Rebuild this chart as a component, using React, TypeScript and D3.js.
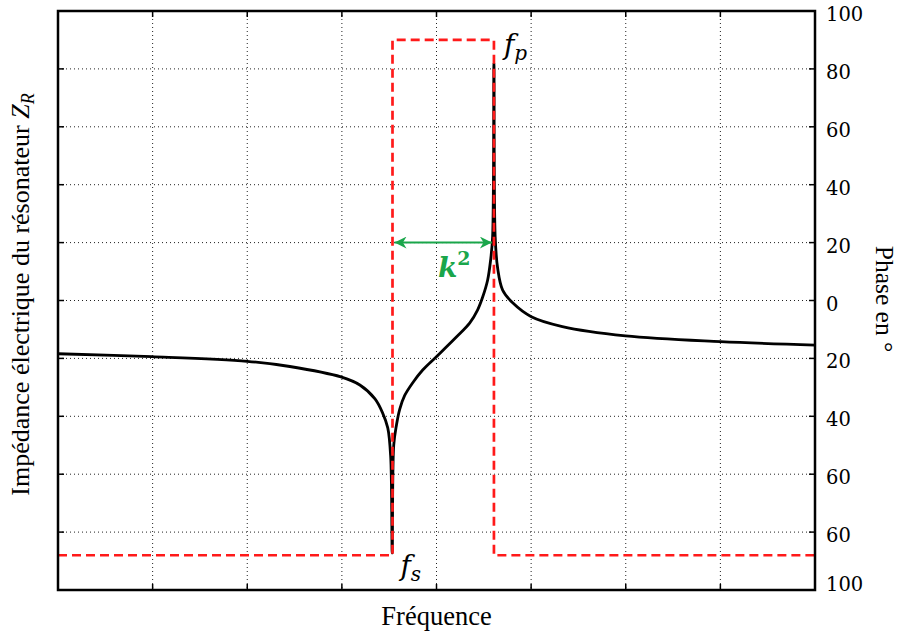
import * as d3 from "d3";
import { useEffect, useRef } from "react";

const WIDTH = 898;
const HEIGHT = 634;
const margin = { top: 11, bottom: 44, left: 58, right: 83 };

// frequency axis in grid units (8 divisions, no labels)
const freqTicks = [0, 1, 2, 3, 4, 5, 6, 7, 8];
// phase axis, labels as printed on the original
const phaseTicks = [100, 80, 60, 40, 20, 0, -20, -40, -60, -80, -100];
const phaseLabels = ["100", "80", "60", "40", "20", "0", "20", "40", "60", "60", "100"];

// series and parallel resonance positions
const fs = 3.535;
const fp = 4.607;

// impedance curve (arbitrary units, 0..10)
const freq = [
  0, 0.99, 2.0, 2.45, 2.99, 3.19, 3.35, 3.43, 3.485, 3.516, 3.532,
  3.548, 3.577, 3.611, 3.664, 3.749, 3.854, 3.999, 4.21, 4.35, 4.435,
  4.488, 4.54, 4.572, 4.593, 4.607, 4.62, 4.646, 4.699, 4.805, 5.002,
  5.33, 5.998, 7.0, 8.0,
];
const impedance = [
  4.08, 4.03, 3.95, 3.86, 3.68, 3.54, 3.3, 3.06, 2.8, 2.3, 0.64,
  2.5, 2.85, 3.12, 3.36, 3.58, 3.8, 4.03, 4.37, 4.61, 4.84,
  5.06, 5.35, 5.7, 6.1, 9.1, 6.1, 5.56, 5.18, 4.96, 4.72,
  4.55, 4.39, 4.29, 4.23,
];

// phase step (degrees)
const phaseFreq = [0, fs, fp, 8];
const phaseValue = [-88, 90, -88, -88];

const k2Level = 20;

const App = () => {
  const svgRef = useRef(null);

  useEffect(() => {
    const svg = d3.select(svgRef.current);
    svg.selectAll("*").remove();

    const x = d3.scaleLinear().domain([0, 8]).range([margin.left, WIDTH - margin.right]);
    const yPhase = d3.scaleLinear().domain([-100, 100]).range([HEIGHT - margin.bottom, margin.top]);
    const yImp = d3.scaleLinear().domain([0, 10]).range([HEIGHT - margin.bottom, margin.top]);
    const x0 = margin.left;
    const x1 = WIDTH - margin.right;
    const y0 = margin.top;
    const y1 = HEIGHT - margin.bottom;

    const defs = svg.append("defs");
    defs
      .append("marker")
      .attr("id", "arrow")
      .attr("viewBox", "0 0 10 10")
      .attr("refX", 10)
      .attr("refY", 5)
      .attr("markerWidth", 7)
      .attr("markerHeight", 6)
      .attr("markerUnits", "strokeWidth")
      .attr("orient", "auto-start-reverse")
      .append("path")
      .attr("d", "M0,0 L10,5 L0,10 L3,5 Z")
      .attr("fill", "#1aa64b");

    // grid
    const grid = svg.append("g").attr("stroke", "#222").attr("stroke-width", 1).attr("stroke-dasharray", "1,3");
    grid
      .selectAll(".vg")
      .data(freqTicks.slice(1, -1))
      .join("line")
      .attr("x1", (d) => x(d))
      .attr("x2", (d) => x(d))
      .attr("y1", y0)
      .attr("y2", y1);
    grid
      .selectAll(".hg")
      .data(phaseTicks.slice(1, -1))
      .join("line")
      .attr("x1", x0)
      .attr("x2", x1)
      .attr("y1", (d) => yPhase(d))
      .attr("y2", (d) => yPhase(d));

    // inward ticks
    const ticks = svg.append("g").attr("stroke", "#000").attr("stroke-width", 1.5);
    phaseTicks.slice(1, -1).forEach((d) => {
      ticks.append("line").attr("x1", x0).attr("x2", x0 + 6).attr("y1", yPhase(d)).attr("y2", yPhase(d));
      ticks.append("line").attr("x1", x1 - 6).attr("x2", x1).attr("y1", yPhase(d)).attr("y2", yPhase(d));
    });
    freqTicks.slice(1, -1).forEach((d) => {
      ticks.append("line").attr("x1", x(d)).attr("x2", x(d)).attr("y1", y0).attr("y2", y0 + 6);
      ticks.append("line").attr("x1", x(d)).attr("x2", x(d)).attr("y1", y1 - 6).attr("y2", y1);
    });

    // impedance curve
    const line = d3
      .line()
      .x((d) => x(d[0]))
      .y((d) => yImp(d[1]))
      .curve(d3.curveCatmullRom.alpha(0.5));
    svg
      .append("path")
      .datum(freq.map((f, i) => [f, impedance[i]]))
      .attr("d", line)
      .attr("fill", "none")
      .attr("stroke", "#000")
      .attr("stroke-width", 2.8)
      .attr("stroke-linejoin", "round");

    // phase step
    const step = d3
      .line()
      .x((d) => x(d[0]))
      .y((d) => yPhase(d[1]))
      .curve(d3.curveStepAfter);
    svg
      .append("path")
      .datum(phaseFreq.map((f, i) => [f, phaseValue[i]]))
      .attr("d", step)
      .attr("fill", "none")
      .attr("stroke", "#ff1a1a")
      .attr("stroke-width", 2.7)
      .attr("stroke-dasharray", "9,5");

    // k² arrow
    svg
      .append("line")
      .attr("x1", x(fs) + 2)
      .attr("x2", x(fp) - 2)
      .attr("y1", yPhase(k2Level))
      .attr("y2", yPhase(k2Level))
      .attr("stroke", "#1aa64b")
      .attr("stroke-width", 2)
      .attr("marker-start", "url(#arrow)")
      .attr("marker-end", "url(#arrow)");

    const k = svg
      .append("text")
      .attr("x", (x(fs) + x(fp)) / 2 + 11)
      .attr("y", yPhase(k2Level) + 34)
      .attr("text-anchor", "middle")
      .attr("fill", "#1aa64b")
      .attr("font-family", "'DejaVu Serif', serif")
      .attr("font-weight", "bold")
      .attr("font-size", 28);
    k.append("tspan").attr("font-style", "italic").text("k");
    k.append("tspan").attr("font-size", 19).attr("dy", -12).text("2");

    // frame
    svg
      .append("rect")
      .attr("x", x0)
      .attr("y", y0)
      .attr("width", x1 - x0)
      .attr("height", y1 - y0)
      .attr("fill", "none")
      .attr("stroke", "#000")
      .attr("stroke-width", 2.5);

    // right axis labels
    svg
      .append("g")
      .selectAll("text")
      .data(phaseTicks)
      .join("text")
      .attr("x", x1 + 11)
      .attr("y", (d) => Math.min(yPhase(d) + 10, y1 + 1))
      .attr("font-family", "'DejaVu Serif', serif")
      .attr("font-size", 19.5)
      .attr("fill", "#000")
      .text((d, i) => phaseLabels[i]);

    // resonance labels
    const fpLabel = svg
      .append("text")
      .attr("x", x(fp) + 10)
      .attr("y", 54)
      .attr("font-family", "'DejaVu Serif', serif")
      .attr("font-style", "italic")
      .attr("font-size", 28);
    fpLabel.append("tspan").text("f");
    fpLabel.append("tspan").attr("font-size", 20).attr("dy", 6).text("p");

    const fsLabel = svg
      .append("text")
      .attr("x", x(fs) + 8)
      .attr("y", 575)
      .attr("font-family", "'DejaVu Serif', serif")
      .attr("font-style", "italic")
      .attr("font-size", 28);
    fsLabel.append("tspan").text("f");
    fsLabel.append("tspan").attr("font-size", 20).attr("dy", 6).text("s");

    // axis titles
    svg
      .append("text")
      .attr("x", (x0 + x1) / 2)
      .attr("y", 625)
      .attr("text-anchor", "middle")
      .attr("font-family", "'Liberation Serif', serif")
      .attr("font-size", 26.5)
      .text("Fréquence");

    const leftTitle = svg
      .append("text")
      .attr("transform", `translate(29, ${(y0 + y1) / 2 - 6}) rotate(-90)`)
      .attr("text-anchor", "middle")
      .attr("font-family", "'Liberation Serif', serif")
      .attr("font-size", 26);
    leftTitle.append("tspan").text("Impédance électrique du résonateur ");
    leftTitle.append("tspan").attr("font-style", "italic").text("Z");
    leftTitle.append("tspan").attr("font-style", "italic").attr("font-size", 18).attr("dy", 5).text("R");

    svg
      .append("text")
      .attr("transform", `translate(876, 299) rotate(90)`)
      .attr("text-anchor", "middle")
      .attr("font-family", "'Liberation Serif', serif")
      .attr("font-size", 25.5)
      .text("Phase en °");
  }, []);

  return (
    <svg
      ref={svgRef}
      width={WIDTH}
      height={HEIGHT}
      style={{ position: "absolute", left: 0, top: 0, background: "#fff" }}
    />
  );
};

export default App;
